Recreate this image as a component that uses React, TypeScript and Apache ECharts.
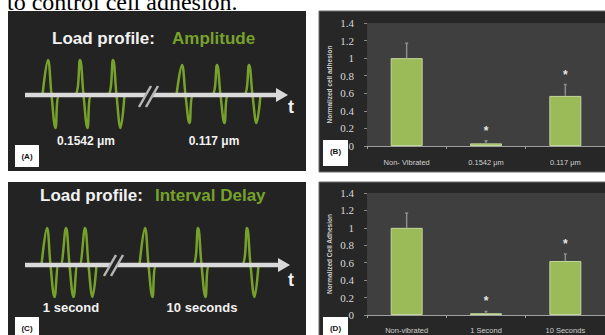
import React, { useEffect, useRef } from "react";
import * as echarts from "echarts";

// ---- Panel B: amplitude ----
const ampCategories = ["Non- Vibrated", "0.1542 μm", "0.117 μm"];
const ampValues = [1.0, 0.03, 0.57];
const ampErrorTops = [1.17, 0.06, 0.7];
const ampStars: (number | null)[] = [null, 0.2, 0.84];

// ---- Panel D: interval delay ----
const delayCategories = ["Non-vibrated", "1 Second", "10 Seconds"];
const delayValues = [1.0, 0.02, 0.62];
const delayErrorTops = [1.17, 0.04, 0.7];
const delayStars: (number | null)[] = [null, 0.2, 0.85];

const yTickLabels = ["0", "0.2", "0.4", "0.6", "0.8", "1", "1.2", "1.4"];

// ---- Schematic load profiles (panels A and C) ----
const waveOffsets = [-5.5, 0, 3.5, 7.5, 11.5];
const waveShape = [0, 1, 0, -1, 0];
const ampLeftPeaks = [48, 80, 113];
const ampRightPeaks = [182, 217, 249];
const ampLeftAmp = [35, 33];
const ampRightAmp = [30, 28];
const delayLeftPeaks = [47, 66, 85];
const delayRightPeaks = [145, 198, 247];
const delayAmp = [37, 32];

const GREEN = "#76a22c";
const WHITE = "#f2f2f2";
const SANS = "Liberation Sans, Arial, sans-serif";

function buildWave(peaks: number[], amp: number[]) {
  const out: number[][] = [];
  peaks.forEach((p) => {
    waveOffsets.forEach((o, i) => {
      const s = waveShape[i];
      out.push([p + o, s > 0 ? s * amp[0] : s * amp[1]]);
    });
  });
  return out;
}

function errorSeries(xi: number, values: number[], tops: number[]) {
  return {
    type: "custom",
    xAxisIndex: xi,
    yAxisIndex: xi,
    z: 5,
    data: values.map((v, i) => [i, v, tops[i]]),
    renderItem: (_p: any, api: any) => {
      const a = api.coord([api.value(0), api.value(1)]);
      const b = api.coord([api.value(0), api.value(2)]);
      return {
        type: "group",
        children: [
          { type: "line", shape: { x1: a[0], y1: a[1], x2: b[0], y2: b[1] }, style: { stroke: "#8c8c8c", lineWidth: 1.5 } },
          { type: "line", shape: { x1: b[0] - 1.5, y1: b[1], x2: b[0] + 1.5, y2: b[1] }, style: { stroke: "#8c8c8c", lineWidth: 1.5 } },
        ],
      };
    },
  };
}

function starSeries(xi: number, stars: (number | null)[]) {
  const data: number[][] = [];
  stars.forEach((s, i) => {
    if (s != null) data.push([i, s]);
  });
  return {
    type: "custom",
    xAxisIndex: xi,
    yAxisIndex: xi,
    z: 6,
    data,
    renderItem: (_p: any, api: any) => {
      const c = api.coord([api.value(0), api.value(1)]);
      return {
        type: "text",
        x: c[0],
        y: c[1] + 3,
        style: { text: "*", fill: "#e6e6e6", font: "bold 12px " + SANS, align: "center", verticalAlign: "middle" },
      };
    },
  };
}

function barAxes(idx: number, cats: string[], labelMargin: number) {
  return {
    x: {
      type: "category",
      gridIndex: idx,
      data: cats,
      axisLine: { lineStyle: { color: "#a0a0a0", width: 1 } },
      axisTick: { show: true, length: 3, lineStyle: { color: "#a0a0a0" } },
      axisLabel: { color: "#cfcfcf", fontSize: 7.5, fontFamily: SANS, margin: labelMargin, interval: 0 },
    },
    y: {
      type: "value",
      gridIndex: idx,
      min: 0,
      max: 1.4,
      interval: 0.2,
      name: idx === 1 ? "Normalized cell adhesion" : "Normalized Cell Adhesion",
      nameLocation: "middle",
      nameRotate: 90,
      nameGap: 34,
      nameTextStyle: { color: "#cfcfcf", fontSize: 6.5, fontFamily: SANS, fontWeight: "bold" },
      axisLine: { show: false },
      axisTick: { show: true, length: 3, lineStyle: { color: "#8a8a8a" } },
      splitLine: { show: false },
      axisLabel: {
        color: "#d8d8d8",
        fontSize: 11,
        fontFamily: "Liberation Serif, serif",
        margin: 13,
        formatter: (v: number) => yTickLabels[Math.round(v / 0.2)] ?? String(v),
      },
    },
  };
}

export default function App() {
  const ref = useRef<HTMLDivElement>(null);
  useEffect(() => {
    document.body.style.margin = "0";
    const chart = echarts.init(ref.current!, undefined, { renderer: "svg" });
    const bAxes = barAxes(1, ampCategories, 12);
    const dAxes = barAxes(3, delayCategories, 11);

    const txt = (text: string, x: number, y: number, size: number, fill: string, align = "left", weight = "bold", family = SANS) => ({
      type: "text",
      x,
      y,
      z: 20,
      style: { text, fill, font: `${weight} ${size}px ${family}`, align, verticalAlign: "middle" },
    });

    const box = (label: string, x: number, y: number, w: number, h: number) => [
      { type: "rect", z: 20, shape: { x, y, width: w, height: h }, style: { fill: "#ffffff" } },
      txt(label, x + w / 2, y + Math.min(h, 22) / 2, 8, "#111", "center"),
    ];

    const arrow = (x1: number, x2: number, y: number) => [
      { type: "line", z: 12, shape: { x1, y1: y, x2, y2: y }, style: { stroke: "#d9d9d9", lineWidth: 4.5 } },
      { type: "polygon", z: 12, shape: { points: [[x2 - 2, y - 7], [x2 + 10, y], [x2 - 2, y + 7]] }, style: { fill: "#d9d9d9" } },
    ];

    const brk = (x: number, y: number) => [
      { type: "line", z: 13, shape: { x1: x + 3, y1: y + 11, x2: x + 15, y2: y - 10 }, style: { stroke: "#232323", lineWidth: 5 } },
      { type: "line", z: 14, shape: { x1: x, y1: y + 11, x2: x + 12, y2: y - 10 }, style: { stroke: "#b5b5b5", lineWidth: 2.5 } },
      { type: "line", z: 14, shape: { x1: x + 7, y1: y + 11, x2: x + 19, y2: y - 10 }, style: { stroke: "#b5b5b5", lineWidth: 2.5 } },
    ];

    const graphics: any[] = [
      // caption fragment (cut off at the top, as in the source figure)
      {
        type: "text",
        x: 7,
        y: 14,
        z: 20,
        style: { text: "to control cell adhesion.", fill: "#000", font: "24px Liberation Serif, Times New Roman, serif", align: "left", verticalAlign: "bottom" },
      },
      // panel backgrounds
      { type: "rect", z: -10, shape: { x: 8, y: 11, width: 298, height: 160 }, style: { fill: "#232323" } },
      { type: "rect", z: -10, shape: { x: 8, y: 182, width: 298, height: 160 }, style: { fill: "#232323" } },
      { type: "rect", z: -10, shape: { x: 319, y: 11, width: 290, height: 161 }, style: { fill: "#272727", stroke: "#6a6a6a", lineWidth: 1 } },
      { type: "rect", z: -10, shape: { x: 319, y: 182, width: 290, height: 160 }, style: { fill: "#272727", stroke: "#6a6a6a", lineWidth: 1 } },
      // titles
      txt("Load profile:", 52, 38, 17, WHITE),
      txt("Amplitude", 172, 38, 17, GREEN),
      txt("Load profile:", 40, 195, 17, WHITE),
      txt("Interval Delay", 155, 195, 17, GREEN),
      // arrows
      ...arrow(25, 278, 95),
      ...arrow(25, 280, 265),
      ...brk(139, 96),
      ...brk(104, 265),
      txt("t", 291, 107, 18, WHITE, "center"),
      txt("t", 291, 280, 18, WHITE, "center"),
      // labels
      txt("0.1542 μm", 86, 141, 12, WHITE, "center"),
      txt("0.117 μm", 214, 141, 12, WHITE, "center"),
      txt("1 second", 71, 307, 13, WHITE, "center"),
      txt("10 seconds", 202, 307, 13, WHITE, "center"),
      ...box("(A)", 15, 145, 24, 22),
      ...box("(C)", 15, 317, 24, 22),
      ...box("(B)", 323, 140, 25, 26),
      ...box("(D)", 323, 317, 25, 22),
    ];

    const option: any = {
      animation: false,
      backgroundColor: "#ffffff",
      grid: [
        { left: 8, top: 11, width: 298, height: 160, show: false },
        { left: 367, top: 23, width: 246, height: 123, show: true, backgroundColor: "#3f3f3f", borderWidth: 0 },
        { left: 8, top: 182, width: 298, height: 153, show: false },
        { left: 367, top: 193, width: 246, height: 122, show: true, backgroundColor: "#3f3f3f", borderWidth: 0 },
      ],
      xAxis: [
        { type: "value", gridIndex: 0, min: 8, max: 306, show: false },
        bAxes.x,
        { type: "value", gridIndex: 2, min: 8, max: 306, show: false },
        dAxes.x,
      ],
      yAxis: [
        { type: "value", gridIndex: 0, min: -76, max: 84, show: false },
        bAxes.y,
        { type: "value", gridIndex: 2, min: -70, max: 83, show: false },
        dAxes.y,
      ],
      graphic: { elements: graphics },
      series: [
        ...[
          [0, buildWave(ampLeftPeaks, ampLeftAmp)],
          [0, buildWave(ampRightPeaks, ampRightAmp)],
          [2, buildWave(delayLeftPeaks, delayAmp)],
          [2, buildWave(delayRightPeaks, delayAmp)],
        ].map(([gi, data]: any) => ({
          type: "line",
          xAxisIndex: gi,
          yAxisIndex: gi,
          data,
          smooth: 0.4,
          symbol: "none",
          lineStyle: { color: GREEN, width: 2.5 },
          z: 3,
        })),
        {
          type: "bar",
          xAxisIndex: 1,
          yAxisIndex: 1,
          data: ampValues,
          barWidth: 32,
          itemStyle: { color: "#9bbb59", borderColor: "#c4d79b", borderWidth: 1 },
        },
        errorSeries(1, ampValues, ampErrorTops),
        starSeries(1, ampStars),
        {
          type: "bar",
          xAxisIndex: 3,
          yAxisIndex: 3,
          data: delayValues,
          barWidth: 32,
          itemStyle: { color: "#9bbb59", borderColor: "#c4d79b", borderWidth: 1 },
        },
        errorSeries(3, delayValues, delayErrorTops),
        starSeries(3, delayStars),
      ],
    };
    chart.setOption(option);
    return () => chart.dispose();
  }, []);
  return <div ref={ref} style={{ position: "absolute", left: 0, top: 0, width: 605, height: 335 }} />;
}
